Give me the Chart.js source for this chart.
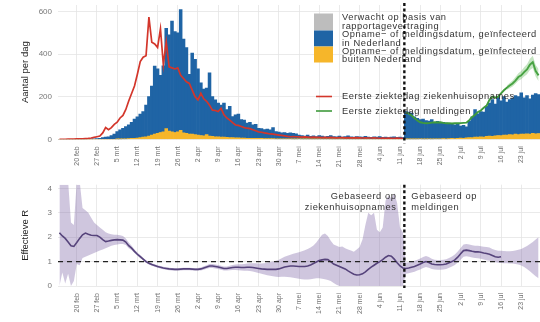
<!DOCTYPE html>
<html><head><meta charset="utf-8">
<script src="https://cdn.jsdelivr.net/npm/chart.js@4.4.1/dist/chart.umd.min.js"></script>
<style>
html,body{margin:0;padding:0;background:#fff;overflow:hidden;width:540px;height:322px}
#w1{position:absolute;left:0;top:0;width:540px;height:170px}
#w2{position:absolute;left:0;top:170px;width:540px;height:152px}
</style></head><body>
<div id="w1"><canvas id="c1"></canvas></div>
<div id="w2"><canvas id="c2"></canvas></div>
<script>
// ---------- categories ----------
const monthNames = ['jan','feb','mrt','apr','mei','jun','jul','aug'];
const categories = [];
for (let i = 0; i < 167; i++) { const d = new Date(2020, 1, 14 + i); categories.push(d.getDate() + ' ' + monthNames[d.getMonth()]); }
const firstTickLabel = '20 feb';
const splitAfter = '12 jun';          // last day based on ziekenhuisopnames
const meldingenStart = '13 jun';      // first day based on meldingen
const greenBandStart = '18 jul';
const rLineEnd = '16 jul';

// ---------- top panel series (per dag) ----------
// Opname- of meldingsdatum, geinfecteerd in Nederland
const nlCases = [
  0,0,0,0,0,0,0,0,0,0,
  1,1,2,3,5,8,10,12,18,25,
  35,44,50,58,65,76,90,99,110,120,
  148,185,230,319,302,268,310,470,452,520,
  473,465,566,440,402,280,381,353,310,247,
  219,218,297,186,173,158,150,160,131,147,
  99,108,111,86,84,71,75,63,66,48,
  46,43,45,41,52,34,32,28,30,26,
  28,27,25,18,17,14,19,13,15,12,
  17,14,11,13,16,12,11,14,10,12,
  15,11,9,12,11,10,13,10,9,11,
  10,12,8,11,7,10,11,9,9,8,
  129,127,122,104,97,90,94,87,83,91,
  78,82,76,77,74,69,71,65,65,56,
  60,51,76,97,129,110,118,117,141,155,
  172,149,184,163,180,155,164,172,181,178,
  193,171,179,165,179,189,183
];
// Opname- of meldingsdatum, geinfecteerd buiten Nederland
const abroadCases = [
  0,0,0,0,0,0,0,0,0,0,
  0,0,0,0,0,0,0,0,0,0,
  1,1,2,2,3,4,5,6,8,10,
  12,15,20,25,28,32,35,50,38,35,
  32,35,42,30,28,25,24,22,20,18,
  16,22,15,14,12,12,10,10,9,8,
  8,7,7,6,6,5,5,5,4,4,
  4,3,3,3,3,2,2,2,2,2,
  2,1,1,2,1,1,1,1,1,1,
  1,1,1,1,1,1,1,1,1,1,
  1,1,1,1,1,0,1,1,0,1,
  0,1,1,0,1,0,1,0,1,0,
  1,1,1,1,1,2,1,1,2,1,
  2,2,2,3,2,3,4,3,5,6,
  5,7,8,8,10,10,12,11,14,15,
  14,16,18,17,20,20,22,21,24,22,
  25,24,26,25,28,26,27
];
// Verwacht op basis van rapportagevertraging (not visible in this window)
const expectedDelay = [];
// Eerste ziektedag ziekenhuisopnames (from 14 feb)
const redLine = [
  0,0,0,1,1,1,2,2,2,3,
  4,6,9,12,15,30,55,45,55,70,
  80,100,112,140,180,215,250,305,365,385,
  392,573,455,447,431,518,350,457,340,335,
  330,335,300,285,270,262,231,200,185,216,
  190,178,160,137,135,130,145,115,100,90,
  78,67,65,60,55,52,50,45,40,35,
  33,30,28,25,24,22,20,18,16,14,
  12,13,12,11,10,11,10,9,10,9,
  9,8,9,8,9,8,7,8,8,7,
  8,7,7,8,7,6,7,6,6,7,
  6,5,6,5,6,5,5,6,5,5
];
// Eerste ziektedag meldingen (from 13 jun)
const greenLine = [
  125,120,112,100,88,80,77,75,76,78,
  80,79,80,77,75,76,74,75,75,76,
  77,78,90,105,115,128,135,148,158,185,
  200,195,200,215,230,242,252,262,275,292,
  300,315,328,350,362,320,300
];
// onzekerheid eerste ziektedag meldingen (from 18 jul)
const greenLow = [232,240,248,260,275,282,295,305,325,335,295,272];
const greenHigh = [252,264,276,292,310,320,338,352,378,392,348,330];

// ---------- bottom panel: effectieve R ----------
const rMid = [
  2.18,2.05,1.95,1.8,1.65,1.62,1.78,1.95,2.1,2.17,
  2.12,2.08,2.07,2.07,2.0,1.9,1.82,1.84,1.87,1.89,
  1.9,1.89,1.88,1.8,1.65,1.55,1.42,1.3,1.2,1.1,
  1.0,0.93,0.88,0.84,0.8,0.77,0.74,0.72,0.7,0.69,
  0.68,0.68,0.69,0.7,0.7,0.7,0.69,0.68,0.68,0.7,
  0.74,0.78,0.82,0.82,0.8,0.78,0.75,0.72,0.72,0.74,
  0.76,0.77,0.77,0.76,0.76,0.77,0.77,0.76,0.74,0.72,
  0.7,0.69,0.68,0.68,0.68,0.68,0.7,0.74,0.78,0.8,
  0.82,0.82,0.81,0.8,0.8,0.8,0.82,0.86,0.92,0.98,
  1.04,1.07,1.09,1.08,1.0,0.9,0.85,0.8,0.75,0.7,
  0.62,0.55,0.48,0.45,0.46,0.5,0.58,0.68,0.77,0.85,
  0.93,1.0,1.08,1.18,1.25,1.22,1.1,0.95,0.82,0.74,
  0.72,0.74,0.77,0.8,0.85,0.9,0.96,1.0,0.96,0.9,
  0.88,0.87,0.87,0.88,0.9,0.95,1.0,1.07,1.18,1.32,
  1.45,1.47,1.45,1.42,1.4,1.4,1.38,1.35,1.33,1.3,
  1.25,1.2,1.18,1.2
];
const rLow = [
  0,0.55,0.1,0.5,0,0.2,0.9,0.85,1.15,1.2,
  1.25,1.3,1.35,1.4,1.45,1.5,1.55,1.6,1.65,1.68,
  1.7,1.72,1.72,1.68,1.55,1.47,1.35,1.24,1.14,1.05,
  0.95,0.88,0.83,0.79,0.75,0.72,0.69,0.67,0.65,0.64,
  0.63,0.63,0.64,0.65,0.65,0.65,0.64,0.63,0.63,0.64,
  0.67,0.71,0.74,0.74,0.72,0.7,0.67,0.64,0.64,0.65,
  0.66,0.66,0.65,0.63,0.62,0.62,0.61,0.59,0.56,0.53,
  0.5,0.47,0.44,0.42,0.4,0.38,0.37,0.38,0.38,0.37,
  0.36,0.34,0.32,0.3,0.28,0.27,0.27,0.28,0.3,0.32,
  0.32,0.3,0.28,0.25,0.2,0.12,0.05,0,0,0,
  0,0,0,0,0,0,0,0,0,0,
  0,0,0,0,0,0,0,0,0,0,
  0.5,0.52,0.55,0.58,0.63,0.68,0.74,0.78,0.75,0.7,
  0.68,0.67,0.67,0.68,0.7,0.75,0.8,0.86,0.96,1.08,
  1.2,1.22,1.2,1.17,1.15,1.14,1.12,1.09,1.06,1.03,
  1.0,0.97,0.95,0.94,0.93,0.93,0.92,0.92,0.9,0.88,
  0.84,0.78,0.7,0.6,0.5,0.4,0.32
];
const rHigh = [
  4.3,4.3,4.3,4.3,2.6,2.5,4.3,4.3,3.2,3.1,
  3.0,2.8,2.6,2.5,2.4,2.3,2.2,2.15,2.12,2.1,
  2.1,2.08,2.05,1.95,1.78,1.65,1.5,1.37,1.27,1.16,
  1.05,0.98,0.93,0.89,0.85,0.82,0.79,0.77,0.75,0.74,
  0.73,0.73,0.74,0.75,0.75,0.75,0.74,0.73,0.74,0.76,
  0.81,0.85,0.9,0.9,0.88,0.86,0.83,0.8,0.8,0.83,
  0.86,0.88,0.89,0.89,0.9,0.92,0.93,0.93,0.93,0.92,
  0.92,0.93,0.95,0.98,1.0,1.03,1.08,1.14,1.2,1.24,
  1.28,1.32,1.35,1.38,1.42,1.46,1.52,1.58,1.66,1.78,
  1.95,2.1,2.15,2.05,1.85,1.7,1.65,1.6,1.62,1.55,
  1.5,1.45,1.4,1.5,1.6,1.9,2.5,3.0,2.9,3.0,
  2.3,2.2,2.4,3.5,3.7,3.6,3.8,3.4,2.4,2.2,
  0.95,0.97,1.0,1.03,1.08,1.13,1.19,1.23,1.19,1.12,
  1.08,1.07,1.07,1.08,1.1,1.15,1.21,1.29,1.41,1.56,
  1.7,1.72,1.7,1.67,1.65,1.65,1.63,1.61,1.6,1.58,
  1.52,1.47,1.44,1.44,1.43,1.42,1.42,1.43,1.45,1.48,
  1.52,1.58,1.64,1.72,1.8,1.9,2.0
];
const rTicks = [0,1,2,3,4];
const countTicks = [0,200,400,600];

// ---------- text ----------
const legendBars = [
  ['Verwacht op basis van','rapportagevertraging'],
  ['Opname\u2212 of meldingsdatum, ge\u00efnfecteerd','in Nederland'],
  ['Opname\u2212 of meldingsdatum, ge\u00efnfecteerd','buiten Nederland']
];
const legendLines = ['Eerste ziektedag ziekenhuisopnames','Eerste ziektedag meldingen'];
const noteLeft = ['Gebaseerd op','ziekenhuisopnames'];
const noteRight = ['Gebaseerd op','meldingen'];

// ---------- styles ----------
const FONT = "'Liberation Sans', Arial, sans-serif";
const C_GREY = '#bdbdbd', C_BLUE = '#1f64a5', C_YEL = '#f6b62a', C_RED = '#d3362b', C_GREEN = '#3f9a3c';
const C_GBAND = 'rgba(90,180,80,0.35)';
const C_RLINE = '#3c2d60', C_BAND = 'rgba(128,104,168,0.38)';
const GRID = '#e4e4e4';
Chart.defaults.font.family = FONT;
Chart.defaults.animation = false;

const firstTickIdx = categories.indexOf(firstTickLabel);
const isWeekTick = i => i >= firstTickIdx && (i - firstTickIdx) % 7 === 0;
const splitIdx = categories.indexOf(splitAfter);
const meldIdx = categories.indexOf(meldingenStart);
const gBandIdx = categories.indexOf(greenBandStart);
const rEndIdx = categories.indexOf(rLineEnd);
const fromIdx = (arr, start) => categories.map((_, i) => i >= start && i - start < arr.length ? arr[i - start] : null);

function xScale(h) {
  return {
    type: 'category', offset: true, stacked: true,
    grid: { offset: false, drawTicks: false, lineWidth: 0.8,
      color: c => isWeekTick(c.index) ? GRID : 'rgba(0,0,0,0)' },
    border: { display: false },
    ticks: { autoSkip: false, minRotation: 90, maxRotation: 90, padding: 7, color: '#6f6f6f', font: { size: 7 },
      callback(v, i) { return isWeekTick(i) ? categories[i] : ''; } },
    afterFit(s) { s.height = h; s.paddingLeft = 0; s.paddingRight = 0; }
  };
}
function yScale(title, min, max, keep) {
  return {
    min, max, stacked: true,
    afterBuildTicks(s) { s.ticks = keep.map(v => ({ value: v })); },
    grid: { drawTicks: false, lineWidth: 0.8, color: GRID },
    border: { display: false },
    ticks: { autoSkip: false, padding: 6, color: '#777', font: { size: 8 }, callback: v => String(v) },
    title: { display: true, text: title, color: '#222', font: { size: 9.5 }, padding: { top: 20, bottom: 0 } },
    afterFit(s) { s.width = 58; s.paddingTop = 0; s.paddingBottom = 0; }
  };
}
function splitX(chart) {
  const xs = chart.scales.x;
  return (xs.getPixelForValue(splitIdx) + xs.getPixelForValue(splitIdx + 1)) / 2;
}
function drawSplit(chart, y0, y1) {
  const ctx = chart.ctx, x = splitX(chart);
  ctx.save(); ctx.strokeStyle = '#111'; ctx.lineWidth = 2.4; ctx.setLineDash([3, 2.6]);
  ctx.beginPath(); ctx.moveTo(x, y0); ctx.lineTo(x, y1); ctx.stroke(); ctx.restore();
}
function textStyle(ctx) {
  ctx.font = '9.3px ' + FONT; ctx.fillStyle = '#333'; ctx.textBaseline = 'middle';
  if ('letterSpacing' in ctx) ctx.letterSpacing = '0.55px';
}

const topPlugin = {
  id: 'topDecor',
  afterDatasetsDraw(chart) {
    const ctx = chart.ctx, a = chart.chartArea;
    ctx.save();
    const sw = [C_GREY, C_BLUE, C_YEL];
    const sy = [13.5, 30.5, 46.5, 62.5];
    for (let k = 0; k < 3; k++) { ctx.fillStyle = sw[k]; ctx.fillRect(314, sy[k], 19, sy[k + 1] - sy[k]); }
    textStyle(ctx); ctx.textAlign = 'left';
    const ly = [[17.5, 26.2], [34.5, 43], [51, 59.5]];
    for (let k = 0; k < 3; k++) { ctx.fillText(legendBars[k][0], 342, ly[k][0]); ctx.fillText(legendBars[k][1], 342, ly[k][1]); }
    ctx.lineWidth = 1.6;
    ctx.strokeStyle = C_RED; ctx.beginPath(); ctx.moveTo(316, 96.5); ctx.lineTo(332, 96.5); ctx.stroke();
    ctx.strokeStyle = C_GREEN; ctx.beginPath(); ctx.moveTo(316, 111); ctx.lineTo(332, 111); ctx.stroke();
    ctx.fillText(legendLines[0], 342, 96.5);
    ctx.fillText(legendLines[1], 342, 111);
    ctx.restore();
    drawSplit(chart, a.top - 2, a.bottom + 4);
  }
};
const botPlugin = {
  id: 'botDecor',
  afterDatasetsDraw(chart) {
    const ctx = chart.ctx, a = chart.chartArea, ys = chart.scales.y;
    ctx.save();
    const y1 = ys.getPixelForValue(1);
    ctx.strokeStyle = '#222'; ctx.lineWidth = 1.1; ctx.setLineDash([5, 4]);
    ctx.beginPath(); ctx.moveTo(a.left, y1); ctx.lineTo(a.right, y1); ctx.stroke();
    ctx.setLineDash([]);
    const x = splitX(chart);
    textStyle(ctx);
    ctx.textAlign = 'right';
    ctx.fillText(noteLeft[0], x - 8, a.top + 12); ctx.fillText(noteLeft[1], x - 8, a.top + 23);
    ctx.textAlign = 'left';
    ctx.fillText(noteRight[0], x + 7, a.top + 12); ctx.fillText(noteRight[1], x + 7, a.top + 23);
    ctx.restore();
    drawSplit(chart, a.top, a.bottom + 2);
  }
};

const common = { responsive: true, maintainAspectRatio: false, devicePixelRatio: 1, events: [],
  plugins: { legend: { display: false }, tooltip: { enabled: false } } };

const barSet = (label, data, color, order) => ({ type: 'bar', label, data, backgroundColor: color, borderWidth: 0,
  categoryPercentage: 1, barPercentage: 1, order, stack: 'cases' });

new Chart(document.getElementById('c1'), {
  data: { labels: categories, datasets: [
    { type: 'line', label: legendLines[0], data: fromIdx(redLine, 0),
      borderColor: C_RED, borderWidth: 1.7, pointRadius: 0, order: 0, stack: 'l1', tension: 0 },
    { type: 'line', label: 'g-laag', data: fromIdx(greenLow, gBandIdx), borderWidth: 0, pointRadius: 0,
      order: 0, stack: 'g1', fill: false },
    { type: 'line', label: 'g-hoog', data: fromIdx(greenHigh, gBandIdx), borderWidth: 0, pointRadius: 0,
      order: 0, stack: 'g2', fill: '-1', backgroundColor: C_GBAND },
    { type: 'line', label: legendLines[1], data: fromIdx(greenLine, meldIdx),
      borderColor: C_GREEN, borderWidth: 1.9, pointRadius: 0, order: 0, stack: 'l2', tension: 0 },
    barSet('buiten', abroadCases, C_YEL, 1),
    barSet('nl', nlCases, C_BLUE, 2),
    barSet('verwacht', expectedDelay, C_GREY, 3)
  ] },
  options: Object.assign({}, common, {
    layout: { padding: { top: 5, left: 0, right: 0, bottom: 0 } },
    scales: { x: xScale(30.7), y: yScale('Aantal per dag', 0, 630, countTicks) }
  }),
  plugins: [topPlugin]
});

new Chart(document.getElementById('c2'), {
  type: 'line',
  data: { labels: categories, datasets: [
    { label: 'laag', data: rLow, borderWidth: 0, pointRadius: 0, fill: false, stack: 'a' },
    { label: 'hoog', data: rHigh, borderWidth: 0, pointRadius: 0, fill: '-1', backgroundColor: C_BAND, stack: 'b' },
    { label: 'R', data: fromIdx(rMid, 0).map((v, i) => i <= rEndIdx ? v : null), borderColor: C_RLINE, borderWidth: 1.6,
      pointRadius: 0, fill: false, stack: 'c' }
  ] },
  options: Object.assign({}, common, {
    layout: { padding: { top: 14.7, left: 0, right: 0, bottom: 0 } },
    scales: { x: xScale(36), y: Object.assign(yScale('Effectieve R', 0, 4.15, rTicks), { stacked: false }) }
  }),
  plugins: [botPlugin]
});
</script></body></html>
